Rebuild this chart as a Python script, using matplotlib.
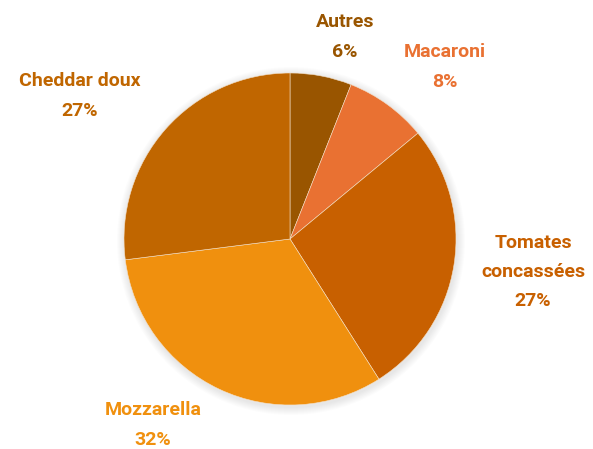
import matplotlib
matplotlib.use("Agg")
import matplotlib.pyplot as plt
from matplotlib import font_manager
from matplotlib.patches import Circle

labels = ["Autres", "Macaroni", "Tomates\nconcassées", "Mozzarella", "Cheddar doux"]
values = [6, 8, 27, 32, 27]
colors = ["#995500", "#E97132", "#C86000", "#F0900E", "#C06600"]
label_pos = [(345, 37), (445, 67), (533, 272), (153, 425), (80, 96)]

names = {f.name for f in font_manager.fontManager.ttflist}
fam = [f for f in ["Liberation Sans Narrow", "Roboto", "DejaVu Sans"] if f in names]

W, H = 593, 449
fig = plt.figure(figsize=(W / 100, H / 100), dpi=100)
ax = fig.add_axes([0, 0, 1, 1])

cx, cy, r = 290, 239, 166
# soft shadow
for i in range(8):
    ax.add_patch(Circle((cx + 1, H - cy - 2), r + 8 - i, color="black", alpha=0.012, lw=0, zorder=0))

ax.pie(values, colors=colors, startangle=90, counterclock=False, center=(cx, H - cy),
       radius=r, frame=True, wedgeprops=dict(linewidth=0.4, edgecolor="#f4e0c8"))
ax.set_xlim(0, W)
ax.set_ylim(0, H)
ax.set_aspect("equal")
ax.axis("off")

for lab, v, c, (x, y) in zip(labels, values, colors, label_pos):
    ax.text(x, H - y, f"{lab}\n{v}%", ha="center", va="center", color=c, fontsize=14,
            fontweight="bold", family=fam, linespacing=1.8, zorder=5)

fig.savefig("out.png", dpi=100, facecolor="white")
